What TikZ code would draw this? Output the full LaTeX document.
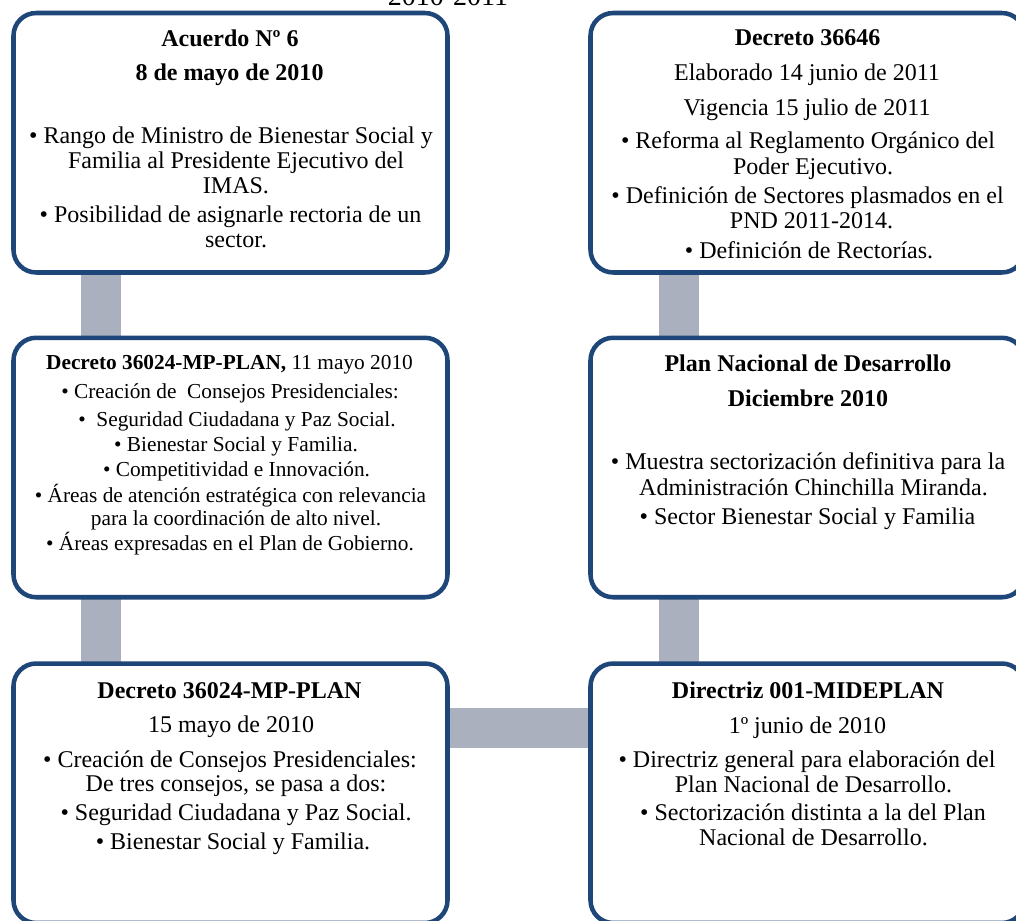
\documentclass[tikz,border=0pt]{standalone}
\usepackage{fontspec}
\setmainfont{Liberation Serif}
\usetikzlibrary{calc,backgrounds}

\definecolor{frameblue}{HTML}{1F4679}
\definecolor{bargray}{HTML}{AAB0BE}

% one text line, placed by its baseline centre
\newcommand\txtline[5][tline]{\node[#1] (#2) at (#3,#4) {#5};}

\begin{document}
\begin{tikzpicture}[x=0.75pt, y=-0.75pt,
  eventbox/.style={draw=frameblue, line width=3.4pt, fill=white,
    rounded corners=17pt, minimum width=325.5pt, minimum height=194.6pt,
    inner sep=0pt, outer sep=0pt},
  bar/.style={draw=bargray, line width=30pt},
  tline/.style={anchor=base, inner sep=0pt, font=\fontsize{18}{18}\selectfont},
  hline/.style={tline, font=\fontsize{18}{18}\selectfont\bfseries},
  sline/.style={anchor=base, inner sep=0pt, font=\fontsize{16}{16}\selectfont},
  yearline/.style={anchor=base, inner sep=0pt, font=\fontsize{21}{21}\selectfont}]
\useasboundingbox (0,0) rectangle (1016,920);

% heading, running above the top edge
\txtline[yearline]{years}{448}{6}{2010-2011}

% the six event boxes
\node[eventbox] (acuerdo)   at (230.5,142.75) {};
\node[eventbox] (dec36646)  at (807.5,142.75) {};
\node[eventbox] (dec11mayo) at (230.5,467.5) {};
\node[eventbox] (pnd)       at (807.5,467.5) {};
\node[eventbox] (dec15mayo) at (230.5,793.25) {};
\node[eventbox] (directriz) at (807.5,793.25) {};

% timeline bars behind the boxes
\begin{scope}[on background layer]
  \draw[bar] ($(acuerdo.south)+(-129.5,0)$) -- ($(dec11mayo.north)+(-129.5,0)$);
  \draw[bar] ($(dec11mayo.south)+(-129.5,0)$) -- ($(dec15mayo.north)+(-129.5,0)$);
  \draw[bar] ($(dec15mayo.east)+(0,-65.25)$) -- ($(directriz.west)+(0,-65.25)$);
  \draw[bar] ($(directriz.north)+(-128.5,0)$) -- ($(pnd.south)+(-128.5,0)$);
  \draw[bar] ($(pnd.north)+(-128.5,0)$) -- ($(dec36646.south)+(-128.5,0)$);
\end{scope}

% Acuerdo Nº 6
\txtline[hline]{a1}{230}{46.7}{Acuerdo Nº 6}
\txtline[hline]{a2}{229.5}{81}{8 de mayo de 2010}
\txtline{a3}{231}{144}{• Rango de Ministro de Bienestar Social y}
\txtline{a4}{236}{168.5}{Familia al Presidente Ejecutivo del}
\txtline{a5}{236}{193}{IMAS.}
\txtline{a6}{230.5}{222}{• Posibilidad de asignarle rectoria de un}
\txtline{a7}{236}{247}{sector.}

% Decreto 36646
\txtline[hline]{b1}{807.5}{46}{Decreto 36646}
\txtline{b2}{807}{81}{Elaborado 14 junio de 2011}
\txtline{b3}{807}{115.5}{Vigencia 15 julio de 2011}
\txtline{b4}{808}{149}{• Reforma al Reglamento Orgánico del}
\txtline{b5}{813}{175}{Poder Ejecutivo.}
\txtline{b6}{807.5}{203}{• Definición de Sectores plasmados en el}
\txtline{b7}{811.5}{228}{PND 2011-2014.}
\txtline{b8}{809}{258}{• Definición de Rectorías.}

% Decreto 36024-MP-PLAN, 11 mayo
\txtline[sline]{c1}{229.5}{369}{\textbf{Decreto 36024-MP-PLAN,} 11 mayo 2010}
\txtline[sline]{c2}{230}{398.5}{• Creación de\ \ Consejos Presidenciales:}
\txtline[sline]{c3}{237}{426}{•\ \ Seguridad Ciudadana y Paz Social.}
\txtline[sline]{c4}{236}{451}{• Bienestar Social y Familia.}
\txtline[sline]{c5}{236.5}{476.7}{• Competitividad e Innovación.}
\txtline[sline]{c6}{230.5}{502.7}{• Áreas de atención estratégica con relevancia}
\txtline[sline]{c7}{236}{525}{para la coordinación de alto nivel.}
\txtline[sline]{c8}{230}{550.7}{• Áreas expresadas en el Plan de Gobierno.}

% Plan Nacional de Desarrollo
\txtline[hline]{d1}{808}{371.7}{Plan Nacional de Desarrollo}
\txtline[hline]{d2}{808}{406.7}{Diciembre 2010}
\txtline{d3}{808}{469}{• Muestra sectorización definitiva para la}
\txtline{d4}{813.5}{495}{Administración Chinchilla Miranda.}
\txtline{d5}{807.5}{524}{• Sector Bienestar Social y Familia}

% Decreto 36024-MP-PLAN, 15 mayo
\txtline[hline]{e1}{229.5}{698}{Decreto 36024-MP-PLAN}
\txtline{e2}{231}{732.7}{15 mayo de 2010}
\txtline{e3}{230}{767}{• Creación de Consejos Presidenciales:}
\txtline{e4}{236}{791.7}{De tres consejos, se pasa a dos:}
\txtline{e5}{236}{820.7}{• Seguridad Ciudadana y Paz Social.}
\txtline{e6}{233}{849}{• Bienestar Social y Familia.}

% Directriz 001-MIDEPLAN
\txtline[hline]{f1}{808}{698}{Directriz 001-MIDEPLAN}
\txtline{f2}{807.5}{733}{1º junio de 2010}
\txtline{f3}{807}{767}{• Directriz general para elaboración del}
\txtline{f4}{813.5}{792}{Plan Nacional de Desarrollo.}
\txtline{f5}{813}{820}{• Sectorización distinta a la del Plan}
\txtline{f6}{813.5}{845}{Nacional de Desarrollo.}
\end{tikzpicture}
\end{document}
